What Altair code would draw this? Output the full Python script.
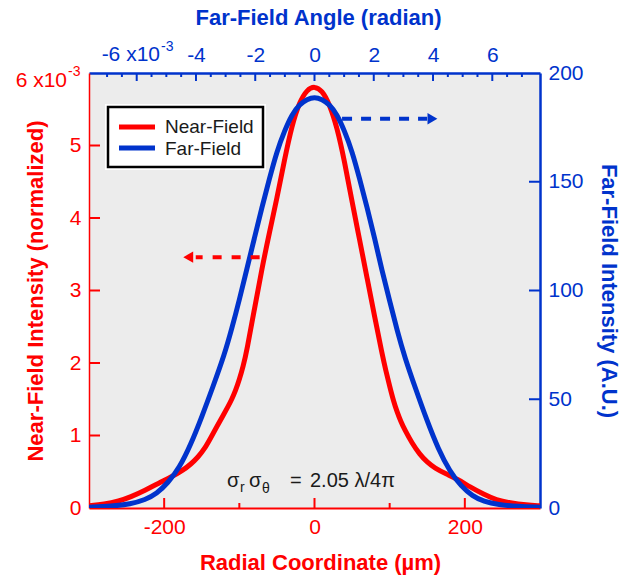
import altair as alt
import pandas as pd

# ---------------- data ----------------
# Near-field: radial coordinate (µm) vs intensity (x1e-3, normalized)
near_x = [-300, -280, -260, -245, -225, -208, -190, -175, -165, -155,
          -146, -138, -130, -122, -115, -110, -105, -100, -95, -90,
          -80, -70, -60, -50, -40, -30, -20, -10, 0,
          10, 20, 30, 40, 50, 60, 70, 80, 90, 95,
          100, 105, 110, 115, 120, 130, 140, 150, 160, 175,
          190, 207, 225, 242, 260, 282, 300]
near_y = [0.03, 0.05, 0.095, 0.15, 0.245, 0.34, 0.43, 0.52, 0.60, 0.70,
          0.82, 0.97, 1.12, 1.27, 1.40, 1.50, 1.62, 1.77, 1.95, 2.17,
          2.74, 3.30, 3.80, 4.27, 4.80, 5.28, 5.60, 5.77, 5.82,
          5.76, 5.57, 5.25, 4.78, 4.22, 3.70, 3.17, 2.64, 2.12, 1.89,
          1.68, 1.48, 1.32, 1.19, 1.08, 0.89, 0.74, 0.63, 0.55, 0.47,
          0.40, 0.29, 0.19, 0.11, 0.07, 0.04, 0.03]

# Far-field: angle (x1e-3 rad) vs intensity (A.U.)
far_x = [-7.61, -6.85, -6.21, -5.71, -5.33, -4.95, -4.56, -4.18, -3.80, -3.42,
         -3.04, -2.79, -2.54, -2.28, -2.03, -1.78, -1.52, -1.27, -1.01, -0.76,
         -0.51, -0.25, 0,
         0.25, 0.51, 0.76, 1.01, 1.27, 1.52, 1.78, 2.03, 2.28, 2.54,
         2.79, 3.04, 3.42, 3.80, 4.18, 4.56, 4.95, 5.33, 5.71, 6.21,
         6.85, 7.61]
far_y = [0.4, 0.8, 1.8, 3.8, 6.5, 11.5, 18.5, 29, 42, 56,
         70.5, 82.5, 95.5, 110, 124, 138, 151.5, 164, 173.5, 181,
         185.5, 188, 189,
         188, 185.5, 181, 173.5, 164, 151.5, 138, 124, 109, 95,
         81.5, 69.5, 54.5, 40, 27, 17, 10, 5.5, 3.0, 1.5,
         0.7, 0.4]

# axis ticks / labels
left_labels = [0, 1, 2, 3, 4, 5]
left_ticks = [1, 2, 3, 4, 5]
bottom_labels = [-200, 0, 200]
bottom_major = [-200, 0, 200]
bottom_minor = [-100, 100]
right_labels = [0, 50, 100, 150, 200]
right_ticks = [50, 100, 150]
top_labels = [-4, -2, 0, 2, 4, 6]
top_major = [-6, -4, -2, 0, 2, 4, 6]
top_minor = [-7, -6.5, -5.5, -5, -4.5, -3.5, -3, -2.5, -1.5, -1, -0.5,
             0.5, 1, 1.5, 2.5, 3, 3.5, 4.5, 5, 5.5, 6.5, 7]

# ---------------- styling ----------------
W, H = 451, 435
RED = "#ff0000"
BLUE = "#0033cc"
FONT = "Liberation Sans"
TXT = "#1a1a1a"
LBL = 21
TTL = 22
NEG = "datum.value < 0 ? '-' + abs(datum.value) : '' + datum.value"

near_df = pd.DataFrame({"r": near_x, "v": near_y})
far_df = pd.DataFrame({"a": far_x, "f": far_y})
one = pd.DataFrame({"k": [0]})


def xr():
    return alt.Scale(domain=[-300, 300], nice=False, zero=False)


def yr():
    return alt.Scale(domain=[0, 6], nice=False, zero=False)


def xb():
    return alt.Scale(domain=[-7.61, 7.61], nice=False, zero=False)


def yb():
    return alt.Scale(domain=[0, 200], nice=False, zero=False)


def ax(orient, color, values, title, dw, **kw):
    return alt.Axis(orient=orient, values=values, ticks=False, grid=False,
                    domainColor=color, domainWidth=dw, labelColor=color,
                    labelFont=FONT, labelFontSize=LBL, labelPadding=8,
                    labelOverlap=False, labelFlush=False,
                    title=title, titleColor=color, titleFont=FONT,
                    titleFontSize=TTL, titleFontWeight="bold",
                    titleBaseline="middle", titleAlign="center", **kw)


# ---------------- curves with their axes ----------------
near_line = alt.Chart(near_df).mark_line(
    color=RED, strokeWidth=5, interpolate="basis", clip=True
).encode(
    x=alt.X("r:Q", scale=xr(),
            axis=ax("bottom", RED, bottom_labels, "Radial Coordinate (µm)", 2,
                    labelExpr=NEG, titleX=231, titleY=54)),
    y=alt.Y("v:Q", scale=yr(),
            axis=ax("left", RED, left_labels, "Near-Field Intensity (normalized)", 1.5,
                    titleAngle=270, titleX=-54, titleY=H / 2)),
)

far_line = alt.Chart(far_df).mark_line(
    color=BLUE, strokeWidth=5, interpolate="basis", clip=True
).encode(
    x=alt.X("a:Q", scale=xb(),
            axis=ax("top", BLUE, top_labels, "Far-Field Angle (radian)", 2.5,
                    labelExpr=NEG, titleX=229, titleY=-56)),
    y=alt.Y("f:Q", scale=yb(),
            axis=ax("right", BLUE, right_labels, "Far-Field Intensity (A.U.)", 2.5,
                    titleAngle=90, titleX=68, titleY=H / 2)),
)

# ---------------- inward ticks ----------------
def vticks(vals, scale, color, x0, x1):
    return alt.Chart(pd.DataFrame({"t": vals})).mark_rule(color=color, strokeWidth=2).encode(
        y=alt.Y("t:Q", scale=scale, axis=None), x=alt.value(x0), x2=alt.value(x1))


def hticks(vals, scale, color, y0, y1):
    return alt.Chart(pd.DataFrame({"t": vals})).mark_rule(color=color, strokeWidth=2).encode(
        x=alt.X("t:Q", scale=scale, axis=None), y=alt.value(y0), y2=alt.value(y1))


ticks = [
    vticks(left_ticks, yr(), RED, 0, 11),
    hticks(bottom_major, xr(), RED, H, H - 10),
    hticks(bottom_minor, xr(), RED, H, H - 5),
    vticks(right_ticks, yb(), BLUE, W - 11, W),
    hticks(top_major, xb(), BLUE, 0, 8),
    hticks(top_minor, xb(), BLUE, 0, 4),
]

# ---------------- arrows ----------------
arrow_red = pd.DataFrame({"x1": [-73], "x2": [-158], "y": [3.46]})
red_arrow = alt.Chart(arrow_red).mark_rule(color=RED, strokeWidth=4, strokeDash=[9, 10]).encode(
    x=alt.X("x1:Q", scale=xr(), axis=None), x2="x2:Q",
    y=alt.Y("y:Q", scale=yr(), axis=None))
head_red = pd.DataFrame({"x": [-168], "y": [3.46]})
red_head = alt.Chart(head_red).mark_point(shape="triangle-left", filled=True, color=RED,
                                          size=130, opacity=1).encode(
    x=alt.X("x:Q", scale=xr(), axis=None), y=alt.Y("y:Q", scale=yr(), axis=None))

arrow_blue = pd.DataFrame({"x1": [0.93], "x2": [3.8], "y": [179]})
blue_arrow = alt.Chart(arrow_blue).mark_rule(color=BLUE, strokeWidth=4, strokeDash=[10, 9]).encode(
    x=alt.X("x1:Q", scale=xb(), axis=None), x2="x2:Q",
    y=alt.Y("y:Q", scale=yb(), axis=None))
head_blue = pd.DataFrame({"x": [3.98], "y": [179]})
blue_head = alt.Chart(head_blue).mark_point(shape="triangle-right", filled=True, color=BLUE,
                                            size=130, opacity=1).encode(
    x=alt.X("x:Q", scale=xb(), axis=None), y=alt.Y("y:Q", scale=yb(), axis=None))


# ---------------- texts (pixel positions, no scales) ----------------
def t(txt, x, y, size, color=TXT, align="left"):
    return alt.Chart(one).mark_text(text=txt, align=align, baseline="alphabetic",
                                    font=FONT, fontSize=size, color=color).encode(
        x=alt.value(x), y=alt.value(y))


six_lbl = [t("6 x10", -22, 14, LBL, RED, "right"), t("-3", -21, 3, 14, RED)]
m6_lbl = [t("-6 x10", 71, -12, LBL, BLUE, "right"), t("-3", 72, -22, 14, BLUE)]

leg_halo = alt.Chart(one).mark_rect(fill="white").encode(
    x=alt.value(16), x2=alt.value(177), y=alt.value(31), y2=alt.value(97))
leg_box = alt.Chart(one).mark_rect(fill="white", stroke="black", strokeWidth=2.5).encode(
    x=alt.value(19), x2=alt.value(174), y=alt.value(34), y2=alt.value(94))
leg_red = alt.Chart(one).mark_rule(color=RED, strokeWidth=5).encode(
    x=alt.value(30), x2=alt.value(66), y=alt.value(54))
leg_blue = alt.Chart(one).mark_rule(color=BLUE, strokeWidth=5).encode(
    x=alt.value(30), x2=alt.value(66), y=alt.value(75))
leg_t = [t("Near-Field", 76, 60, 19), t("Far-Field", 76, 82, 19)]

ann = [t("σ", 138, 414, 20), t("r", 151, 419, 14), t("σ", 160, 414, 20),
       t("θ", 173, 420, 14), t("=", 201, 414, 20), t("2.05 λ/4π", 221, 414, 20)]

chart = alt.layer(
    near_line, far_line, *ticks, red_arrow, red_head, blue_arrow, blue_head,
    leg_halo, leg_box, leg_red, leg_blue, *leg_t, *ann, *six_lbl, *m6_lbl
).resolve_scale(
    x="independent", y="independent"
).properties(
    width=W, height=H, background="white",
    autosize=alt.AutoSizeParams(type="none"),
    padding={"left": 89, "top": 73, "right": 93, "bottom": 68},
).configure_view(fill="#ececec", stroke="transparent")

chart.save("out.html", embed_options={"renderer": "svg", "actions": False})
